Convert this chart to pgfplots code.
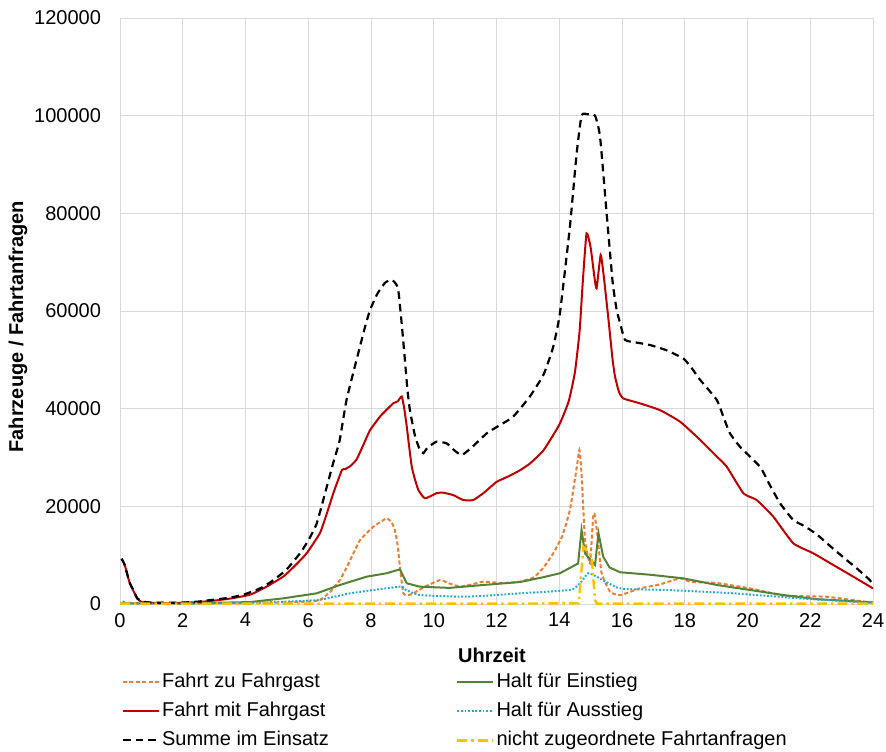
\documentclass[border=0pt]{standalone}
\usepackage{pgfplots}
\pgfplotsset{compat=1.18}
\usepackage{fontspec}
\setmainfont{Liberation Sans}
\usetikzlibrary{calc}
\definecolor{cOrange}{RGB}{237,125,49}
\definecolor{cRed}{RGB}{192,0,0}
\definecolor{cGreen}{RGB}{84,130,53}
\definecolor{cBlue}{RGB}{30,170,225}
\definecolor{cYellow}{RGB}{255,192,0}
\definecolor{cGrid}{RGB}{217,217,217}
\begin{document}
\begin{tikzpicture}
\begin{axis}[
  name=ax,
  scale only axis,
  width=376.5pt, height=293pt,
  xmin=0, xmax=24, ymin=0, ymax=120000,
  xtick={0,2,4,6,8,10,12,14,16,18,20,22,24},
  xticklabels={0,2,4,6,8,10,12,14,16,18,20,22,24},
  ytick={0,20000,40000,60000,80000,100000,120000},
  yticklabels={0,20000,40000,60000,80000,100000,120000},
  scaled y ticks=false,
  grid=major,
  major grid style={cGrid, line width=0.5pt},
  axis line style={draw=none},
  major tick length=0pt,
  tick label style={font=\fontsize{10}{12}\selectfont},
  yticklabel style={xshift=-6pt},
  xticklabel style={yshift=-1pt},
  xlabel={Uhrzeit},
  ylabel={Fahrzeuge / Fahrtanfragen},
  every axis x label/.style={at={(axis description cs:0.494,-0.087)}, anchor=center, font=\bfseries\fontsize{10}{12}\selectfont},
  every axis y label/.style={at={(axis description cs:-0.1355,0.473)}, rotate=90, anchor=center, font=\bfseries\fontsize{10}{12}\selectfont},
  legend columns=2,
  legend style={draw=none, fill=none, inner sep=0pt, at={(axis description cs:0.002,-0.1126)}, anchor=north west,
    font=\fontsize{10}{12}\selectfont, row sep=2.5pt,
    nodes={inner sep=1pt, text height=7.5pt, text depth=2.5pt}},
  legend cell align=left,
  legend image code/.code={\draw[#1] (0pt,0pt) -- (18pt,0pt);},
  clip=true,
]
% Fahrt zu Fahrgast
\addplot[cOrange, line width=1pt, dash pattern=on 2pt off 1.2pt, smooth, tension=0.25] coordinates {
(0.05,300) (1,100) (3,150) (5,300) (6,500) (6.37,800) (6.7,2500) (7.01,4900) (7.3,8500) (7.65,13100)
(8.07,15800) (8.3,16800) (8.5,17550) (8.65,16800) (8.76,15150) (8.85,12000) (8.92,7640) (9.03,2190)
(9.2,1800) (9.35,2190) (9.7,3500) (10.2,4900) (10.5,4200) (10.84,3550) (11.2,4000) (11.58,4570)
(12.2,4300) (12.75,4570) (13.2,5500) (13.5,7500) (13.81,10380) (14.1,14000) (14.34,19250)
(14.56,28100) (14.64,31540) (14.71,26770) (14.82,13100) (14.98,8300) (15.08,17900) (15.12,18500)
(15.21,14500) (15.35,6300) (15.62,2500) (15.94,1800) (16.57,3200) (17.2,4000) (17.85,5260)
(18.2,4500) (19.02,4300) (20.08,3200) (21.2,1700) (22.5,1500) (23.6,600) (24,300)
};
\addlegendentry{\makebox[146pt][l]{Fahrt zu Fahrgast}}
% Halt fuer Einstieg
\addplot[cGreen, line width=1pt] coordinates {
(0.05,150) (2,100) (4.14,400) (5.2,1160) (6.27,2190) (7.01,3900) (7.86,5600) (8.5,6300) (8.92,7100)
(9.14,4240) (9.56,3550) (10.5,3300) (11.58,3900) (12.75,4500) (13.5,5500) (14.02,6300) (14.6,8300)
(14.71,15150) (14.82,10380) (15.14,8000) (15.25,14500) (15.40,9700) (15.6,7500) (15.94,6500) (16.89,6000)
(17.95,5260) (19.02,3900) (20.08,2870) (21.14,1840) (22.2,1000) (23.3,600) (24,300)
};
\addlegendentry{Halt für Einstieg}
% Fahrt mit Fahrgast
\addplot[cRed, line width=1pt, smooth, tension=0.3] coordinates {
(0.05,9200) (0.15,8000) (0.3,4500) (0.42,2800) (0.55,1100) (0.7,400) (1.0,250) (1.5,200) (2.0,250)
(2.5,400) (3.0,700) (3.5,1100) (4.14,1900) (4.6,3300) (5.2,5600) (5.6,8000) (5.95,10400) (6.37,14500)
(6.59,18500) (6.80,22700) (7.07,27400) (7.17,27600) (7.35,28300) (7.54,29600) (7.75,32500) (7.97,35600)
(8.29,38400) (8.5,39800) (8.71,41100) (8.85,41500) (8.98,42500) (9.06,40000) (9.14,36300) (9.30,28100)
(9.5,23500) (9.72,21650) (10.09,22700) (10.3,22800) (10.62,22300) (10.94,21300) (11.26,21300)
(11.6,22800) (12.0,25000) (12.4,26200) (12.75,27400) (13.07,28800) (13.5,31500) (14.0,36700)
(14.3,41500) (14.5,47500) (14.65,56000) (14.75,66000) (14.87,75900) (15.0,73000) (15.12,67000)
(15.19,64650) (15.32,71480) (15.42,67000) (15.57,58160) (15.7,50000) (15.78,46500) (15.9,43500)
(16.04,42100) (16.57,41100) (17.21,39700) (17.85,37340) (18.49,33600) (19.02,30200) (19.34,28100)
(19.87,22670) (20.29,21300) (20.82,17900) (21.46,12430) (22.10,10380) (22.73,8000) (23.37,5600) (24.0,3200)
};
\addlegendentry{\makebox[146pt][l]{Fahrt mit Fahrgast}}
% Halt fuer Ausstieg
\addplot[cBlue, line width=1pt, dash pattern=on 0.9pt off 0.9pt, smooth, tension=0.3] coordinates {
(0,100) (0.1,500) (0.3,100) (2,100) (4,200) (6.27,800) (7.33,2190) (8.92,3550) (9.08,3000) (9.56,1840)
(11.05,1500) (12.75,2190) (14.34,2870) (14.66,4240) (14.92,6300) (15.19,5600) (15.94,3200) (17.42,2870)
(19.55,2190) (21.67,1160) (24,200)
};
\addlegendentry{Halt für Ausstieg}
% Summe im Einsatz
\addplot[black, line width=1.1pt, dash pattern=on 3.8pt off 2.5pt, smooth, tension=0.3] coordinates {
(0.05,9300) (0.15,8000) (0.3,4500) (0.42,2900) (0.55,1200) (0.7,500) (1.0,300) (1.5,250) (2.0,300)
(2.5,500) (3.0,900) (3.5,1300) (3.93,1900) (4.5,3300) (4.89,4900) (5.3,7000) (5.74,10400) (6.0,13000)
(6.27,16500) (6.59,24000) (6.8,29000) (7.0,33500) (7.22,41800) (7.5,49000) (7.8,56500) (7.97,60200)
(8.2,63500) (8.45,65800) (8.66,66400) (8.8,65500) (8.87,64300) (8.97,58000) (9.08,50000) (9.16,44000)
(9.24,39700) (9.4,34500) (9.56,31500) (9.67,30900) (9.8,32000) (10.09,33250) (10.41,32900) (10.65,31500)
(10.89,30500) (11.2,32000) (11.69,34960) (12.1,36600) (12.53,38360) (13.06,42460) (13.5,47000)
(13.8,52500) (14.02,59500) (14.34,77300) (14.55,92000) (14.71,100000) (14.9,100300) (15.14,100000)
(15.30,95700) (15.51,80000) (15.7,66000) (15.83,60200) (15.94,57500) (16.1,54070) (16.5,53500)
(16.89,53040) (17.4,52000) (17.95,50300) (18.2,48500) (18.49,45900) (19.02,41800) (19.25,38000)
(19.44,34960) (19.76,32200) (20.4,28100) (20.7,24500) (21.04,20600) (21.46,17200) (21.8,16000)
(22.2,14300) (22.7,11500) (23.16,9000) (23.5,7200) (23.9,4900) (24.0,3800)
};
\addlegendentry{\makebox[146pt][l]{Summe im Einsatz}}
% nicht zugeordnete Fahrtanfragen
\addplot[cYellow, line width=1.2pt, dash pattern=on 5pt off 2pt on 1.2pt off 2pt] coordinates {
(0,80) (6,80) (12,80) (14.62,150) (14.77,11700) (14.88,11000) (15.03,9700) (15.14,800) (15.2,80) (24,80)
};
\addlegendentry{nicht zugeordnete Fahrtanfragen}
\end{axis}
\pgfresetboundingbox
\path[use as bounding box] ($(ax.south west)+(-60pt,-73.5pt)$) rectangle ($(ax.south west)+(383pt,302pt)$);
\end{tikzpicture}
\end{document}
